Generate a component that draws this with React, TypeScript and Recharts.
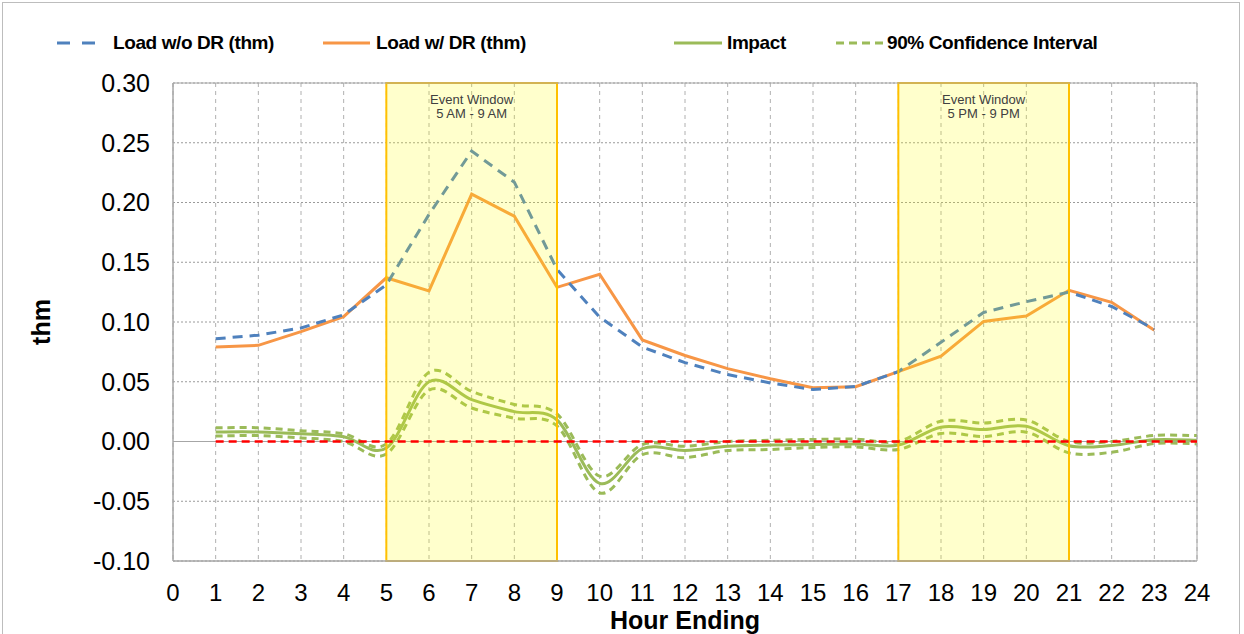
import React from 'react';
import {
  LineChart,
  Line,
  XAxis,
  YAxis,
  CartesianGrid,
  ReferenceArea,
  ReferenceLine,
  Legend,
} from 'recharts';

// ---------- data ----------
const hours = [1, 2, 3, 4, 5, 6, 7, 8, 9, 10, 11, 12, 13, 14, 15, 16, 17, 18, 19, 20, 21, 22, 23, 24];
const loadWithoutDR = [0.086, 0.089, 0.095, 0.106, 0.131, 0.19, 0.243, 0.217, 0.144, 0.104, 0.079, 0.066, 0.056, 0.049, 0.0435, 0.046, 0.0585, 0.083, 0.108, 0.117, 0.125, 0.113, 0.094, null];
const loadWithDR = [0.079, 0.0805, 0.092, 0.1045, 0.137, 0.126, 0.207, 0.1885, 0.129, 0.14, 0.085, 0.072, 0.061, 0.0525, 0.045, 0.0458, 0.0585, 0.0715, 0.1005, 0.105, 0.1265, 0.1165, 0.093, null];
const impact = [0.008, 0.008, 0.0065, 0.004, -0.0055, 0.05, 0.035, 0.025, 0.018, -0.035, -0.006, -0.0075, -0.004, -0.003, -0.0025, -0.002, -0.003, 0.012, 0.01, 0.0128, -0.0035, -0.0033, 0.0015, 0.001];
const ciUpper = [0.0115, 0.0115, 0.009, 0.0065, -0.002, 0.058, 0.042, 0.031, 0.023, -0.029, -0.0025, -0.004, 0.0, 0.001, 0.0017, 0.002, 0.0, 0.017, 0.0155, 0.018, 0.0, 0.0, 0.005, 0.005];
const ciLower = [0.0045, 0.005, 0.003, 0.0, -0.0105, 0.043, 0.028, 0.0195, 0.013, -0.043, -0.011, -0.0135, -0.0075, -0.0067, -0.005, -0.0045, -0.0067, 0.0067, 0.0042, 0.0078, -0.0095, -0.009, -0.0017, -0.002];

const xTicks = [0, 1, 2, 3, 4, 5, 6, 7, 8, 9, 10, 11, 12, 13, 14, 15, 16, 17, 18, 19, 20, 21, 22, 23, 24];
const yTicks = [-0.1, -0.05, 0, 0.05, 0.1, 0.15, 0.2, 0.25, 0.3];

const eventStart = [5, 17];
const eventEnd = [9, 21];
const eventTitle = ['Event Window', 'Event Window'];
const eventRange = ['5 AM - 9 AM', '5 PM - 9 PM'];

const seriesNames = ['Load w/o DR (thm)', 'Load w/ DR (thm)', 'Impact', '90% Confidence Interval'];
const xTitle = 'Hour Ending';
const yTitle = 'thm';

// ---------- styles ----------
const FONT = '"Liberation Sans", Arial, Helvetica, sans-serif';
const BLUE = '#4F81BD';
const ORANGE = '#F79646';
const GREEN = '#9BBB59';
const RED = '#FF0000';
const GRID = '#a6a6a6';

const data = hours.map((h, i) => ({
  hour: h,
  woDR: loadWithoutDR[i],
  wDR: loadWithDR[i],
  impact: impact[i],
  upper: ciUpper[i],
  lower: ciLower[i],
}));

// Excel-like smoothed line (Catmull-Rom style Bezier)
const smoothCurve = (context: any) => {
  let pts: number[][] = [];
  return {
    areaStart() {},
    areaEnd() {},
    lineStart() {
      pts = [];
    },
    point(x: number, y: number) {
      pts.push([+x, +y]);
    },
    lineEnd() {
      if (!pts.length) return;
      context.moveTo(pts[0][0], pts[0][1]);
      const t = 1 / 6;
      for (let i = 0; i < pts.length - 1; i++) {
        const p0 = pts[i - 1] || pts[i];
        const p1 = pts[i];
        const p2 = pts[i + 1];
        const p3 = pts[i + 2] || p2;
        context.bezierCurveTo(
          p1[0] + (p2[0] - p0[0]) * t,
          p1[1] + (p2[1] - p0[1]) * t,
          p2[0] - (p3[0] - p1[0]) * t,
          p2[1] - (p3[1] - p1[1]) * t,
          p2[0],
          p2[1]
        );
      }
    },
  };
};

const legendStyle = [
  { color: BLUE, dash: '13 12', iconLeft: 57, iconW: 40, textLeft: 113 },
  { color: ORANGE, dash: undefined, iconLeft: 323, iconW: 47, textLeft: 376 },
  { color: GREEN, dash: undefined, iconLeft: 674, iconW: 48, textLeft: 727 },
  { color: GREEN, dash: '8 5', iconLeft: 836, iconW: 49, textLeft: 887 },
];

const LegendContent = () => (
  <div style={{ position: 'relative', width: 1244, height: 30, fontFamily: FONT }}>
    {seriesNames.map((name, i) => {
      const s = legendStyle[i];
      return (
        <React.Fragment key={name}>
          <svg
            style={{ position: 'absolute', left: s.iconLeft, top: 10, overflow: 'visible' }}
            width={s.iconW}
            height={10}
          >
            <line x1={0} y1={5} x2={s.iconW} y2={5} stroke={s.color} strokeWidth={3} strokeDasharray={s.dash} />
          </svg>
          <span
            style={{
              position: 'absolute',
              left: s.textLeft,
              top: 3,
              lineHeight: '24px',
              fontSize: 19,
              fontWeight: 'bold',
              letterSpacing: -0.4,
              color: '#000',
              whiteSpace: 'nowrap',
            }}
          >
            {name}
          </span>
        </React.Fragment>
      );
    })}
  </div>
);

const makeEventLabel = (i: number) => (props: any) => {
  const vb = props.viewBox || {};
  const cx = (vb.x || 0) + (vb.width || 0) / 2;
  const top = vb.y || 0;
  return (
    <g>
      <text x={cx} y={top + 21} textAnchor="middle" fontSize={13} fill="#404040" fontFamily={FONT}>
        {eventTitle[i]}
      </text>
      <text x={cx} y={top + 35} textAnchor="middle" fontSize={13} fill="#404040" fontFamily={FONT}>
        {eventRange[i]}
      </text>
    </g>
  );
};

const YTitle = (props: any) => {
  const vb = props.viewBox || { x: 0, y: 83, width: 173, height: 478 };
  const cx = vb.x + 41;
  const cy = vb.y + vb.height / 2;
  return (
    <text
      x={cx}
      y={cy}
      transform={`rotate(-90 ${cx} ${cy})`}
      textAnchor="middle"
      dominantBaseline="central"
      fontSize={25}
      fontWeight="bold"
      fill="#000"
      fontFamily={FONT}
    >
      {yTitle}
    </text>
  );
};

export default function App() {
  return (
    <div style={{ position: 'absolute', left: 0, top: 0, width: 1244, height: 634, background: '#fff', overflow: 'hidden' }}>
      <div
        style={{
          position: 'absolute',
          left: 2,
          top: 2,
          width: 1238,
          height: 650,
          border: '1px solid #bdbdbd',
          boxSizing: 'border-box',
        }}
      />
      <LineChart
        width={1244}
        height={634}
        data={data}
        margin={{ top: 83, right: 47, bottom: 0, left: 0 }}
        style={{ fontFamily: FONT }}
      >
        <CartesianGrid horizontal={true} vertical={false} stroke="#9a9a9a" strokeDasharray="2 2" />
        <CartesianGrid horizontal={false} vertical={true} stroke="#b0b0b0" strokeDasharray="4 4" />
        <XAxis
          dataKey="hour"
          type="number"
          domain={[0, 24]}
          ticks={xTicks}
          interval={0}
          height={73}
          axisLine={{ stroke: GRID }}
          tickLine={false}
          tickSize={6}
          tickMargin={17}
          tick={{ fontSize: 24, fill: '#000', fontFamily: FONT }}
          label={{ value: xTitle, position: 'insideBottom', offset: 5, fontSize: 25, fontWeight: 'bold', fill: '#000', fontFamily: FONT }}
        />
        <YAxis
          type="number"
          domain={[-0.1, 0.3]}
          ticks={yTicks}
          interval={0}
          width={173}
          axisLine={{ stroke: GRID }}
          tickLine={false}
          tickSize={6}
          tickMargin={17}
          tickFormatter={(v: number) => v.toFixed(2)}
          tick={{ fontSize: 25, fill: '#000', fontFamily: FONT }}
          label={{ content: YTitle }}
        />
        <ReferenceLine y={0} stroke={GRID} strokeWidth={1} />
        <Legend verticalAlign="middle" layout="horizontal" align="center" content={LegendContent} wrapperStyle={{ top: 28, left: 0, width: 1244, height: 30 }} />
        <Line dataKey="upper" name="90% Confidence Interval" type={smoothCurve as any} stroke={GREEN} strokeWidth={3} strokeDasharray="7 5" dot={false} activeDot={false} isAnimationActive={false} />
        <Line dataKey="lower" name="90% Confidence Interval (lower)" type={smoothCurve as any} stroke={GREEN} strokeWidth={3} strokeDasharray="7 5" dot={false} activeDot={false} isAnimationActive={false} />
        <Line dataKey="impact" name="Impact" type={smoothCurve as any} stroke={GREEN} strokeWidth={3} dot={false} activeDot={false} isAnimationActive={false} />
        <Line dataKey="wDR" name="Load w/ DR (thm)" type="linear" stroke={ORANGE} strokeWidth={3} dot={false} activeDot={false} isAnimationActive={false} />
        <Line dataKey="woDR" name="Load w/o DR (thm)" type="linear" stroke={BLUE} strokeWidth={3} strokeDasharray="10 7" dot={false} activeDot={false} isAnimationActive={false} />
        <ReferenceLine
          segment={[{ x: 1, y: 0 }, { x: 24, y: 0 }]}
          stroke={RED}
          strokeWidth={2.5}
          strokeDasharray="8 5"
          zIndex={460}
        />
        {eventStart.map((s, i) => (
          <ReferenceArea
            key={`ev${i}`}
            x1={s}
            x2={eventEnd[i]}
            fill="#FFFF00"
            fillOpacity={0.2}
            stroke="#FFC000"
            strokeWidth={2}
            zIndex={450}
            label={{ content: makeEventLabel(i) }}
          />
        ))}
        <ReferenceArea x1={0} x2={24} y1={-0.1} y2={0.3} fill="none" stroke={GRID} strokeWidth={1} zIndex={455} />
      </LineChart>
    </div>
  );
}
